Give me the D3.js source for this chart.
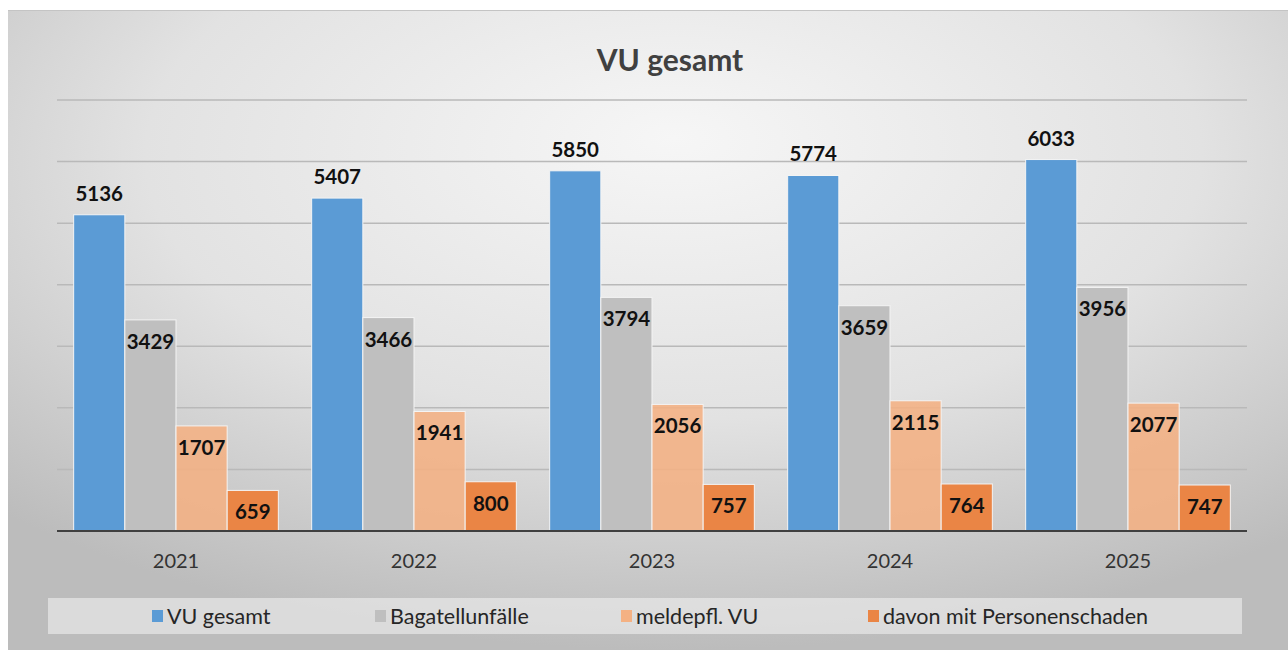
<!DOCTYPE html>
<html>
<head>
<meta charset="utf-8">
<script src="https://cdn.jsdelivr.net/npm/d3@7"></script>
<style>
  body { margin: 0; background: #fff; }
  svg { display: block; font-family: Lato, "Open Sans", sans-serif; }
</style>
</head>
<body>
<svg id="vu_chart"></svg>
<script>
// data
const years = ["2021", "2022", "2023", "2024", "2025"];
const seriesNames = ["VU gesamt", "Bagatellunfälle", "meldepfl. VU", "davon mit Personenschaden"];
const seriesColors = ["#5b9bd5", "#bfbfbf", "#f4b183", "#ea8545"];
const vuGesamt = [5136, 5407, 5850, 5774, 6033];
const bagatell = [3429, 3466, 3794, 3659, 3956];
const meldepfl = [1707, 1941, 2056, 2115, 2077];
const personen = [659, 800, 757, 764, 747];
const gridTicks = [1000, 2000, 3000, 4000, 5000, 6000, 7000];

const width = 1288, height = 650;
const margin = { top: 100, right: 41, bottom: 119, left: 57 };

const svg = d3.select("#vu_chart")
    .attr("width", width)
    .attr("height", height);

// background panel with soft radial shading
const defs = svg.append("defs");
const grad = defs.append("radialGradient")
    .attr("id", "bgGrad")
    .attr("cx", "52%").attr("cy", "25%")
    .attr("r", "75%")
    .attr("fx", "52%").attr("fy", "20%");
grad.append("stop").attr("offset", "0%").attr("stop-color", "#f6f6f6");
grad.append("stop").attr("offset", "55%").attr("stop-color", "#e2e2e2");
grad.append("stop").attr("offset", "100%").attr("stop-color", "#bcbcbc");

svg.append("rect")
    .attr("x", 8).attr("y", 10)
    .attr("width", width - 8).attr("height", height - 10)
    .style("fill", "url(#bgGrad)");
svg.append("line")
    .attr("x1", 8).attr("x2", width)
    .attr("y1", 10.5).attr("y2", 10.5)
    .style("stroke", "#c4c4c4");

const series = [vuGesamt, bagatell, meldepfl, personen];
const rows = [];
years.forEach((yr, i) => {
    series.forEach((s, k) => {
        rows.push({ year: yr, key: seriesNames[k], k: k, value: s[i] });
    });
});

const x0 = d3.scaleBand()
    .domain(years)
    .range([margin.left, width - margin.right])
    .paddingInner(0.14)
    .paddingOuter(0.07);

const x1 = d3.scaleBand()
    .domain(seriesNames)
    .range([0, x0.bandwidth()]);

const y = d3.scaleLinear()
    .domain([0, 7000])
    .range([height - margin.bottom, margin.top]);

const color = d3.scaleOrdinal().domain(seriesNames).range(seriesColors);

// gridlines
svg.append("g")
    .selectAll("line")
    .data(gridTicks)
    .join("line")
    .attr("x1", margin.left)
    .attr("x2", width - margin.right)
    .attr("y1", d => y(d))
    .attr("y2", d => y(d))
    .style("stroke", "#b9b9b9")
    .style("stroke-width", 1.5);

// title
svg.append("text")
    .attr("x", 670)
    .attr("y", 71)
    .attr("text-anchor", "middle")
    .style("font-size", "30px")
    .style("font-weight", "bold")
    .style("fill", "#404040")
    .text("VU gesamt");

// bars
svg.append("g")
    .selectAll("rect")
    .data(rows)
    .join("rect")
    .attr("x", d => x0(d.year) + x1(d.key))
    .attr("y", d => y(d.value))
    .attr("width", x1.bandwidth())
    .attr("height", d => y(0) - y(d.value))
    .style("fill", d => color(d.key))
    .style("fill-opacity", d => d.k === 2 ? 0.88 : 1)
    .style("stroke", "#f4f4f4")
    .style("stroke-width", 1);

// value labels: first series above the bar, the others inside the top
svg.append("g")
    .selectAll("text")
    .data(rows)
    .join("text")
    .attr("x", d => x0(d.year) + x1(d.key) + x1.bandwidth() / 2)
    .attr("y", d => d.k === 0 ? y(d.value) - 14 : y(d.value) + 29)
    .attr("text-anchor", "middle")
    .style("font-size", "20.5px")
    .style("font-weight", "bold")
    .style("fill", "#111")
    .text(d => d.value);

// x axis
const xAxis = svg.append("g")
    .attr("transform", `translate(0,${y(0)})`)
    .call(d3.axisBottom(x0).tickSize(0).tickPadding(23));
xAxis.select(".domain")
    .attr("d", `M${margin.left},0H${width - margin.right}`)
    .style("stroke", "#404040")
    .style("stroke-width", 2);
xAxis.selectAll("text")
    .style("font-size", "20px")
    .style("font-family", "Lato, 'Open Sans', sans-serif")
    .style("fill", "#333");

// legend
svg.append("rect")
    .attr("x", 48).attr("y", 598)
    .attr("width", 1194).attr("height", 36)
    .style("fill", "rgba(244,244,244,0.55)");

const legendX = [152, 375, 621, 868];
const legend = svg.append("g")
    .selectAll("g")
    .data(seriesNames)
    .join("g")
    .attr("transform", (d, i) => `translate(${legendX[i]},616)`);
legend.append("rect")
    .attr("x", 0).attr("y", -6)
    .attr("width", 11).attr("height", 12)
    .style("fill", d => color(d));
legend.append("text")
    .attr("x", 15)
    .attr("y", 7.5)
    .style("font-size", "21.5px")
    .style("fill", "#262626")
    .text(d => d);
</script>
</body>
</html>
